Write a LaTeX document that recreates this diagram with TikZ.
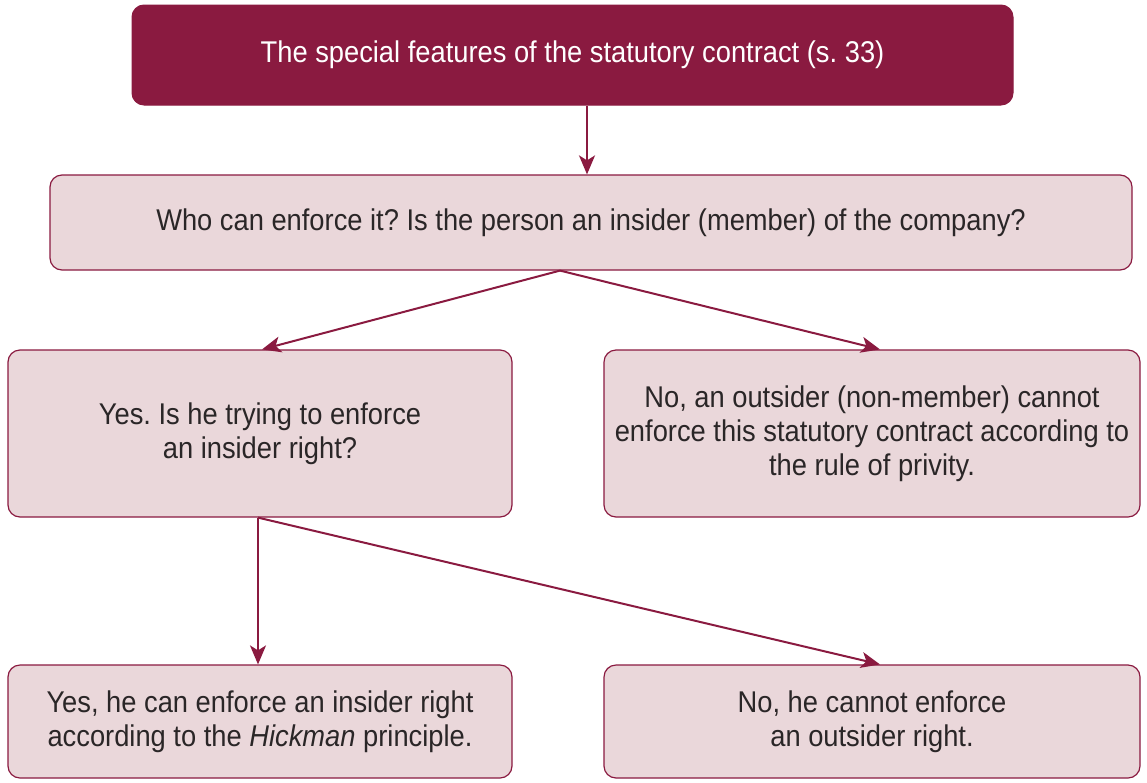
\documentclass[tikz,border=0pt]{standalone}
\usepackage{fontspec}
\setmainfont{Liberation Sans}[FakeStretch=0.91]
\usetikzlibrary{arrows.meta,calc}
\definecolor{maroon}{HTML}{8A1A40}
\definecolor{blush}{HTML}{EAD7DA}
\definecolor{ink}{HTML}{2A2627}
\frenchspacing
\begin{document}
\begin{tikzpicture}[x=1pt,y=-1pt,
  every node/.style={font=\fontsize{30}{34}\selectfont, align=center, inner sep=0pt},
  headbox/.style={draw=maroon, fill=maroon, text=white, rounded corners=12pt, line width=1pt},
  stepbox/.style={draw=maroon, fill=blush, text=ink, rounded corners=12pt, line width=1.2pt},
  link/.style={draw=maroon, line width=2pt, -{Stealth[length=19pt,width=16pt,inset=5pt]}}]
\useasboundingbox (0,0) rectangle (1147,782);
% heading
\node[headbox, minimum width=881pt, minimum height=100pt] (top) at (572.5,55)
  {The special features of the statutory contract (s. 33)};
% question
\node[stepbox, minimum width=1082pt, minimum height=95pt] (who) at (591,222.5)
  {Who can enforce it? Is the person an insider (member) of the company?};
% first level answers
\node[stepbox, minimum width=504pt, minimum height=167pt] (yes) at (260,433.5)
  {Yes. Is he trying to enforce\\an insider right?};
\node[stepbox, minimum width=536pt, minimum height=167pt] (no) at (872,433.5)
  {No, an outsider (non-member) cannot\\enforce this statutory contract according to\\the rule of privity.};
% second level answers
\node[stepbox, minimum width=504pt, minimum height=113pt] (inside) at (260,721.5)
  {Yes, he can enforce an insider right\\according to the \textit{Hickman} principle.};
\node[stepbox, minimum width=536pt, minimum height=113pt] (outside) at (872,721.5)
  {No, he cannot enforce\\an outsider right.};
% connectors
\draw[link] ($(top.south)+(14.5,0)$) -- ($(who.north)+(-4,0)$);
\draw[link] ($(who.south)+(-31,0)$) -- ($(yes.north)+(2,0)$);
\draw[link] ($(who.south)+(-31,0)$) -- ($(no.north)+(8,0)$);
\draw[link] ($(yes.south)+(-2,0)$) -- ($(inside.north)+(-2,0)$);
\draw[link] ($(yes.south)+(-2,0)$) -- ($(outside.north)+(8,0)$);
\end{tikzpicture}
\end{document}
